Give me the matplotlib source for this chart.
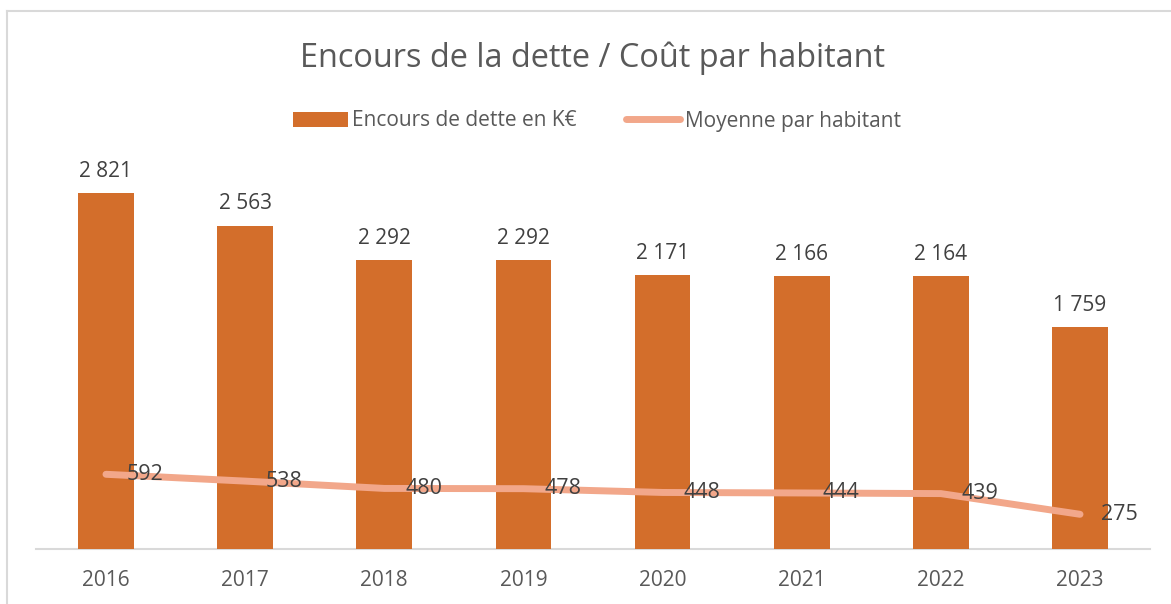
import matplotlib
matplotlib.use("Agg")
import matplotlib.pyplot as plt
from matplotlib.patches import Patch
from matplotlib.lines import Line2D

years = ["2016", "2017", "2018", "2019", "2020", "2021", "2022", "2023"]
encours = [2821, 2563, 2292, 2292, 2171, 2166, 2164, 1759]
moyenne = [592, 538, 480, 478, 448, 444, 439, 275]

title = "Encours de la dette / Coût par habitant"
bar_name = "Encours de dette en K€"
line_name = "Moyenne par habitant"

BAR_C = "#D36E2B"
LINE_C = "#F2A78A"
TXT = "#595959"
LBL = "#404040"
FONT = "Open Sans"

plt.rcParams["font.family"] = [FONT, "DejaVu Sans"]

W, H = 1171, 604
fig = plt.figure(figsize=(W / 100, H / 100), dpi=100)
fig.patch.set_facecolor("white")

# outer border (top and left visible)
fig.add_artist(Line2D([7 / W, 7 / W], [0, 1 - 11 / H], transform=fig.transFigure, color="#D9D9D9", lw=1.5))
fig.add_artist(Line2D([7 / W, 1], [1 - 11 / H, 1 - 11 / H], transform=fig.transFigure, color="#D9D9D9", lw=1.5))

ax_left, ax_right = 36.4, 1149.6
ax_bottom, ax_top = 549, 170.4
ax = fig.add_axes([ax_left / W, 1 - ax_bottom / H, (ax_right - ax_left) / W, (ax_bottom - ax_top) / H])

x = list(range(len(years)))
bars = ax.bar(x, encours, width=0.4, color=BAR_C, zorder=2)
ax.plot(x, moyenne, color=LINE_C, lw=5, solid_capstyle="round", solid_joinstyle="round", zorder=3)

for xi, v in zip(x, encours):
    ax.annotate(f"{v:,}".replace(",", " "), (xi, v), xytext=(0, 8), textcoords="offset points",
                ha="center", va="bottom", fontsize=15, color=LBL)
for xi, v in zip(x, moyenne):
    ax.annotate(f"{v}", (xi, v), xytext=(15, 0), textcoords="offset points",
                ha="left", va="center", fontsize=15.5, color=LBL, zorder=4)

ax.set_xlim(-0.5, len(years) - 0.5)
ax.set_ylim(0, 3000)
ax.set_xticks(x)
ax.set_xticklabels(years, fontsize=15, color=TXT)
ax.tick_params(axis="x", length=0, pad=15)
ax.set_yticks([])
for s in ["top", "right", "left"]:
    ax.spines[s].set_visible(False)
ax.spines["bottom"].set_color("#D9D9D9")
ax.spines["bottom"].set_linewidth(1.5)
ax.spines["bottom"].set_zorder(1)

fig.text(593 / W, 1 - 58 / H, title, ha="center", va="center", fontsize=23.4, color=TXT)

handles = [Patch(facecolor=BAR_C, edgecolor="none"),
           Line2D([0], [0], color=LINE_C, lw=5, solid_capstyle="round")]
fig.legend(handles, [bar_name, line_name], loc="center", bbox_to_anchor=(597 / W, 1 - 121 / H),
           ncol=2, frameon=False, fontsize=15, labelcolor=TXT, handlelength=2.6, handletextpad=0.2,
           columnspacing=2.4)

fig.savefig("out.png", dpi=100)
